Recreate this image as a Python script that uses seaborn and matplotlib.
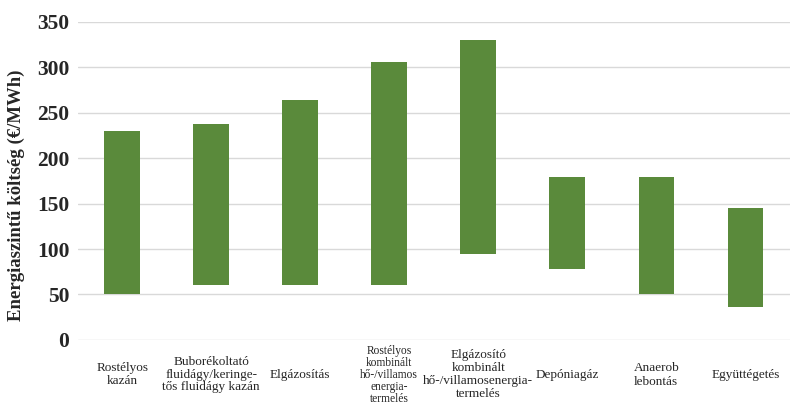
import matplotlib
matplotlib.use("Agg")
import matplotlib.pyplot as plt
import seaborn as sns
import pandas as pd

# Cost ranges per technology (€/MWh): lower and upper bound of each bar
categories = [
    "Rostélyos\nkazán",
    "Buborékoltató\nfluidágy/keringe-\ntős fluidágy kazán",
    "Elgázosítás",
    "Rostélyos\nkombinált\nhő-/villamos\nenergia-\ntermelés",
    "Elgázosító\nkombinált\nhő-/villamosenergia-\ntermelés",
    "Depóniagáz",
    "Anaerob\nlebontás",
    "Együttégetés",
]
low = [50, 60, 60, 60, 95, 78, 50, 36]
high = [230, 238, 264, 306, 330, 179, 179, 145]
y_ticks = [0, 50, 100, 150, 200, 250, 300, 350]

df = pd.DataFrame({"cat": categories, "low": low, "high": high})
df["span"] = df["high"] - df["low"]

sns.set_theme(style="white")
plt.rcParams["font.family"] = ["Liberation Serif", "DejaVu Serif"]

fig = plt.figure(figsize=(7.93, 4.13), dpi=100)
ax = fig.add_axes([0.098, 0.177, 0.898, 0.77])

sns.barplot(data=df, x="cat", y="span", order=categories, bottom=df["low"].values,
            color="#5A8A3B", saturation=1, width=0.4, ax=ax, zorder=2,
            linewidth=0)

ax.set_ylim(0, 350)
ax.set_xlim(-0.5, len(categories) - 0.5)
ax.set_yticks(y_ticks)
ax.set_yticklabels([str(t) for t in y_ticks], fontsize=15.5, fontweight="bold")
ax.yaxis.grid(True, color="#D9D9D9", linewidth=1.0, zorder=0)
ax.set_axisbelow(True)
for s in ax.spines.values():
    s.set_visible(False)
ax.tick_params(axis="both", length=0)
ax.tick_params(axis="y", pad=6)
ax.tick_params(axis="x", pad=25)

ax.set_xlabel("")
ax.set_ylabel("Energiaszintű költség (€/MWh)", fontsize=13.5, fontweight="bold")
ax.yaxis.set_label_coords(-0.074, 0.455)

sizes = [9.5, 9.5, 9.5, 8.3, 9.5, 9.5, 9.5, 9.5]
spacing = [1.1, 1.05, 1.05, 1.0, 1.1, 1.05, 1.2, 1.05]
ax.set_xticks(range(len(categories)))
ax.set_xticklabels(categories)
for lbl, fs, ls in zip(ax.get_xticklabels(), sizes, spacing):
    lbl.set_fontsize(fs)
    lbl.set_va("center")
    lbl.set_ha("center")
    lbl.set_multialignment("center")
    lbl.set_linespacing(ls)

fig.savefig("out.png", dpi=100)
